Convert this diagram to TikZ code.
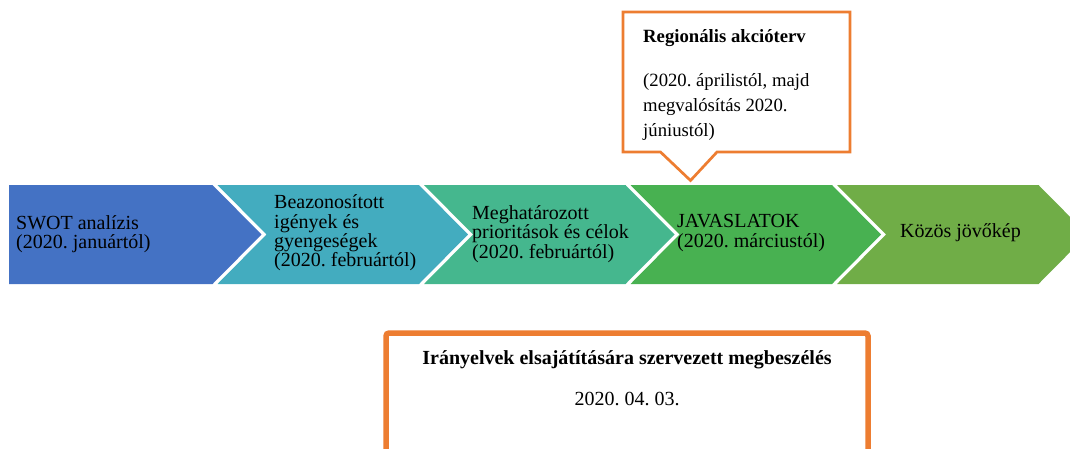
\documentclass[tikz,border=0pt]{standalone}
\usepackage{fontspec}
\setmainfont{Liberation Serif}
\frenchspacing
\definecolor{cA}{HTML}{4472C4}
\definecolor{cB}{HTML}{43ACBF}
\definecolor{cC}{HTML}{45B78E}
\definecolor{cD}{HTML}{48B151}
\definecolor{cE}{HTML}{70AD47}
\definecolor{accent}{HTML}{ED7D31}
\newcommand\chevfont{\fontsize{20}{19.3}\selectfont\lineskiplimit=-30pt\relax}
\begin{document}
\begin{tikzpicture}[x=1pt,y=-1pt,
  chevtext/.style={anchor=west, align=left, inner sep=0pt, text=black, font=\chevfont},
  callbox/.style={draw=accent, line width=2.7pt, fill=white, line join=miter},
  meetbox/.style={draw=accent, line width=5.5pt, fill=white, rounded corners=3pt}]
\useasboundingbox (0,0) rectangle (1070,448);
\clip (0,0) rectangle (1070,448);
% chevrons
\fill[cA] (9,185) -- (212.5,185) -- (261.5,234.5) -- (212.5,284) -- (9,284) -- cycle;
\foreach \i/\c in {1/cB,2/cC,3/cD,4/cE}{
  \pgfmathsetmacro\L{11+206.5*\i}
  \pgfmathsetmacro\R{\L+201.5}
  \fill[\c] (\L,185) -- (\R,185) -- (\R+49,234.5) -- (\R,284) -- (\L,284) -- (\L+49,234.5) -- cycle;
}
\node[chevtext] (t1) at (16,234) {SWOT analízis\\(2020. januártól)};
\node[chevtext] (t2) at (274,233) {Beazonosított\\igények és\\gyengeségek\\(2020. februártól)};
\node[chevtext] (t3) at (472,234) {Meghatározott\\prioritások és célok\\(2020. februártól)};
\node[chevtext] (t4) at (677,233) {JAVASLATOK\\(2020. márciustól)};
\node[chevtext] (t5) at (900,233) {Közös jövőkép};
% callout
\draw[callbox] (623,12) -- (850,12) -- (850,152) -- (717,152) -- (690.5,180.5) -- (660.5,152) -- (623,152) -- cycle;
\node[anchor=north west, align=left, inner sep=0pt, font=\fontsize{18.7}{25}\selectfont] (ra) at (643,29.5)
  {\textbf{Regionális akcióterv}\\[19pt](2020. áprilistól, majd\\megvalósítás 2020.\\júniustól)};
% meeting box
\draw[meetbox] (386,333) rectangle (868,475);
\node[anchor=north, align=center, inner sep=0pt, font=\fontsize{20}{20}\selectfont] (mb) at (627,350.5)
  {\textbf{Irányelvek elsajátítására szervezett megbeszélés}\\[21pt]2020. 04. 03.};
\end{tikzpicture}
\end{document}
